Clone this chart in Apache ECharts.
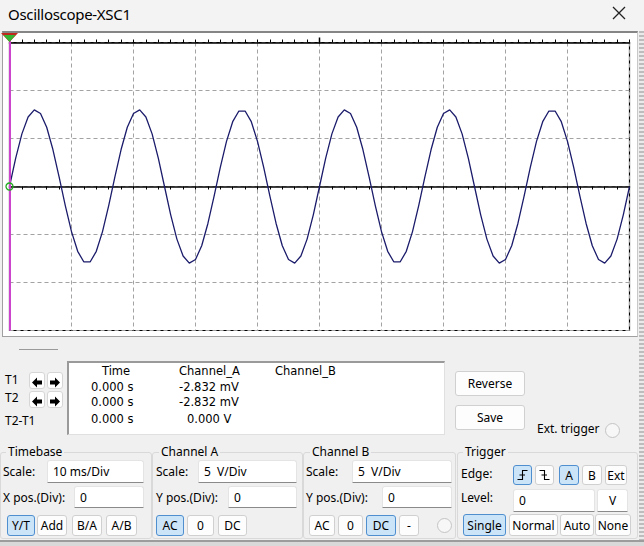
<!DOCTYPE html>
<html>
<head>
<meta charset="utf-8">
<script src="https://cdn.jsdelivr.net/npm/echarts@6/dist/echarts.min.js"></script>
<style>
  html,body{margin:0;padding:0;}
  body{width:644px;height:546px;background:#f0f0f0;overflow:hidden;position:relative;font-family:"Noto Sans",sans-serif;color:#000;}
  .abs{position:absolute;}
  .lbl{position:absolute;font-size:12px;line-height:16px;white-space:nowrap;}
  .mono{position:absolute;font-family:"DejaVu Sans",sans-serif;font-size:11.5px;line-height:15px;white-space:nowrap;}
  .btn{position:absolute;box-sizing:border-box;border:1px solid #d0d0d0;border-radius:3px;background:#fdfdfd;font-size:12px;display:flex;align-items:center;justify-content:center;white-space:nowrap;}
  .btn.on{background:#cce4f7;border-color:#4f8fd0;}
  .inp{position:absolute;box-sizing:border-box;background:#fff;border:1px solid #e4e4e4;border-bottom:1px solid #8a8a8a;border-radius:3px 3px 0 0;font-size:12px;padding-left:5px;display:flex;align-items:center;white-space:pre;}
  .grp{position:absolute;box-sizing:border-box;border:1px solid #d9d9d9;border-radius:3px;}
  .glbl{position:absolute;font-size:12px;line-height:16px;background:#f0f0f0;padding:0 2px;white-space:nowrap;}
  .radio{position:absolute;box-sizing:border-box;width:15px;height:15px;border-radius:50%;border:1px solid #c4c4c4;background:#f7f7f7;}
  .arr{position:absolute;box-sizing:border-box;width:16px;height:17px;border:1px solid #d6d6d6;border-radius:3px;background:#fff;}
</style>
</head>
<body>
<!-- title bar -->
<div class="abs" style="left:0;top:0;width:644px;height:31px;background:#f3f3f3;"></div>
<div class="lbl" style="left:8px;top:4px;font-size:15px;line-height:20px;letter-spacing:-0.3px;">Oscilloscope-XSC1</div>
<svg class="abs" style="left:612px;top:6px;" width="14" height="14"><path d="M1 1 L13 13 M13 1 L1 13" stroke="#222" stroke-width="1.3"/></svg>

<!-- screen -->
<div class="abs" style="left:2px;top:31px;width:636px;height:306px;box-sizing:border-box;background:#fff;border-top:2px solid #858585;border-left:1px solid #a0a0a0;border-right:1px solid #c8c8c8;border-bottom:1px solid #a0a0a0;"></div>
<div class="abs" style="left:639px;top:31px;width:5px;height:515px;background:repeating-linear-gradient(to bottom,#9a9a9a 0 2px,#e6e6e6 2px 4px);opacity:0.6;"></div>
<div id="chart" class="abs" style="left:0;top:0;width:644px;height:340px;"></div>

<!-- cursor panel -->
<div class="abs" style="left:19px;top:349px;width:39px;height:1px;background:#9a9a9a;"></div>
<div class="lbl" style="left:5px;top:372px;">T1</div>
<div class="lbl" style="left:5px;top:390px;">T2</div>
<div class="lbl" style="left:5px;top:413px;">T2-T1</div>
<div class="arr" style="left:29px;top:372px;"><svg width="14" height="15"><polygon points="2,7.5 7,2.5 7,5.5 12,5.5 12,9.5 7,9.5 7,12.5" fill="#000"/></svg></div>
<div class="arr" style="left:47px;top:372px;"><svg width="14" height="15"><polygon points="12,7.5 7,2.5 7,5.5 2,5.5 2,9.5 7,9.5 7,12.5" fill="#000"/></svg></div>
<div class="arr" style="left:29px;top:391px;"><svg width="14" height="15"><polygon points="2,7.5 7,2.5 7,5.5 12,5.5 12,9.5 7,9.5 7,12.5" fill="#000"/></svg></div>
<div class="arr" style="left:47px;top:391px;"><svg width="14" height="15"><polygon points="12,7.5 7,2.5 7,5.5 2,5.5 2,9.5 7,9.5 7,12.5" fill="#000"/></svg></div>

<div class="abs" style="left:67px;top:361px;width:378px;height:74px;box-sizing:border-box;background:#fff;border-top:2px solid #9a9a9a;border-left:2px solid #9a9a9a;border-right:1px solid #e0e0e0;border-bottom:1px solid #e0e0e0;"></div>
<div class="mono" style="left:102px;top:364px;">Time</div>
<div class="mono" style="left:179px;top:364px;">Channel_A</div>
<div class="mono" style="left:275px;top:364px;">Channel_B</div>
<div class="mono" style="left:91px;top:380px;">0.000 s</div>
<div class="mono" style="left:179px;top:380px;">-2.832 mV</div>
<div class="mono" style="left:91px;top:395px;">0.000 s</div>
<div class="mono" style="left:179px;top:395px;">-2.832 mV</div>
<div class="mono" style="left:91px;top:412px;">0.000 s</div>
<div class="mono" style="left:187px;top:412px;">0.000 V</div>

<div class="btn" style="left:455px;top:371px;width:70px;height:25px;">Reverse</div>
<div class="btn" style="left:455px;top:405px;width:70px;height:25px;">Save</div>
<div class="lbl" style="left:537px;top:421px;">Ext. trigger</div>
<div class="radio" style="left:605px;top:423px;"></div>

<!-- group frames -->
<div class="grp" style="left:0px;top:452px;width:152px;height:87px;"></div>
<div class="grp" style="left:152px;top:452px;width:151px;height:87px;"></div>
<div class="grp" style="left:303px;top:452px;width:153px;height:87px;"></div>
<div class="grp" style="left:457px;top:452px;width:181px;height:87px;"></div>
<div class="glbl" style="left:6px;top:444px;">Timebase</div>
<div class="glbl" style="left:159px;top:444px;">Channel A</div>
<div class="glbl" style="left:310px;top:444px;">Channel B</div>
<div class="glbl" style="left:463px;top:444px;">Trigger</div>

<!-- timebase -->
<div class="lbl" style="left:3px;top:464px;">Scale:</div>
<div class="inp" style="left:47px;top:460px;width:97px;height:23px;">10 ms/Div</div>
<div class="lbl" style="left:3px;top:490px;">X pos.(Div):</div>
<div class="inp" style="left:74px;top:486px;width:70px;height:22px;">0</div>
<div class="btn on" style="left:7px;top:515px;width:28px;height:21px;">Y/T</div>
<div class="btn" style="left:37px;top:515px;width:30px;height:21px;">Add</div>
<div class="btn" style="left:72px;top:515px;width:30px;height:21px;">B/A</div>
<div class="btn" style="left:106px;top:515px;width:31px;height:21px;">A/B</div>

<!-- channel A -->
<div class="lbl" style="left:156px;top:464px;">Scale:</div>
<div class="inp" style="left:198px;top:460px;width:99px;height:23px;">5  V/Div</div>
<div class="lbl" style="left:156px;top:490px;">Y pos.(Div):</div>
<div class="inp" style="left:228px;top:486px;width:69px;height:22px;">0</div>
<div class="btn on" style="left:156px;top:515px;width:28px;height:21px;">AC</div>
<div class="btn" style="left:187px;top:515px;width:27px;height:21px;">0</div>
<div class="btn" style="left:218px;top:515px;width:29px;height:21px;">DC</div>

<!-- channel B -->
<div class="lbl" style="left:306px;top:464px;">Scale:</div>
<div class="inp" style="left:352px;top:460px;width:100px;height:23px;">5  V/Div</div>
<div class="lbl" style="left:306px;top:490px;">Y pos.(Div):</div>
<div class="inp" style="left:382px;top:486px;width:70px;height:22px;">0</div>
<div class="btn" style="left:309px;top:515px;width:26px;height:21px;">AC</div>
<div class="btn" style="left:338px;top:515px;width:25px;height:21px;">0</div>
<div class="btn on" style="left:366px;top:515px;width:30px;height:21px;">DC</div>
<div class="btn" style="left:399px;top:515px;width:20px;height:21px;">-</div>
<div class="radio" style="left:437px;top:518px;"></div>

<!-- trigger -->
<div class="lbl" style="left:461px;top:466px;">Edge:</div>
<div class="btn on" style="left:513px;top:465px;width:19px;height:20px;"><svg width="13" height="14"><path d="M1.5 11.5 H6.5 V2.5 H11.5 M3.5 7 H9" stroke="#000" stroke-width="1.1" fill="none"/></svg></div>
<div class="btn" style="left:535px;top:465px;width:19px;height:20px;"><svg width="13" height="14"><path d="M1.5 2.5 H6.5 V11.5 H11.5 M3.5 7 H9" stroke="#000" stroke-width="1.1" fill="none"/></svg></div>
<div class="btn on" style="left:559px;top:465px;width:20px;height:20px;">A</div>
<div class="btn" style="left:582px;top:465px;width:20px;height:20px;">B</div>
<div class="btn" style="left:605px;top:465px;width:22px;height:20px;">Ext</div>
<div class="lbl" style="left:461px;top:490px;">Level:</div>
<div class="inp" style="left:513px;top:489px;width:82px;height:23px;">0</div>
<div class="inp" style="left:597px;top:489px;width:31px;height:23px;justify-content:center;padding-left:0;">V</div>
<div class="btn on" style="left:463px;top:514px;width:43px;height:22px;">Single</div>
<div class="btn" style="left:509px;top:514px;width:49px;height:22px;">Normal</div>
<div class="btn" style="left:560px;top:514px;width:34px;height:22px;">Auto</div>
<div class="btn" style="left:595px;top:514px;width:36px;height:22px;">None</div>

<!-- bottom edge -->
<div class="abs" style="left:0;top:540px;width:644px;height:2px;background:#9c9c9c;"></div>
<div class="abs" style="left:0;top:542px;width:644px;height:4px;background:#d9d9d9;"></div>

<script>
// time samples (ms) and Channel A voltage (V)
const timeMs = [0,1,2,3,4,5,6,7,8,9,10,11,12,13,14,15,16,17,18,19,20,21,22,23,24,
  25,26,27,28,29,30,31,32,33,34,35,36,37,38,39,40,41,42,43,44,45,46,47,48,49,
  50,51,52,53,54,55,56,57,58,59,60,61,62,63,64,65,66,67,68,69,70,71,72,73,74,
  75,76,77,78,79,80,81,82,83,84,85,86,87,88,89,90,91,92,93,94,95,96,97,98,99,100];
const channelA = [0,2.95,5.48,7.24,7.98,7.61,6.17,3.85,1.00,-1.99,-4.70,-6.75,-7.86,-7.86,-6.75,-4.70,-1.99,1.00,3.85,6.17,7.61,7.98,7.24,5.48,2.95,
  0,-2.95,-5.48,-7.24,-7.98,-7.61,-6.17,-3.85,-1.00,1.99,4.70,6.75,7.86,7.86,6.75,4.70,1.99,-1.00,-3.85,-6.17,-7.61,-7.98,-7.24,-5.48,-2.95,
  0,2.95,5.48,7.24,7.98,7.61,6.17,3.85,1.00,-1.99,-4.70,-6.75,-7.86,-7.86,-6.75,-4.70,-1.99,1.00,3.85,6.17,7.61,7.98,7.24,5.48,2.95,
  0,-2.95,-5.48,-7.24,-7.98,-7.61,-6.17,-3.85,-1.00,1.99,4.70,6.75,7.86,7.86,6.75,4.70,1.99,-1.00,-3.85,-6.17,-7.61,-7.98,-7.24,-5.48,-2.95,
  0];
const timeRange = [0, 100];   // 10 ms/Div x 10 div
const voltRange = [-15, 15];  // 5 V/Div x 6 div
const cursorT1 = 0;
const triggerPos = 50;

const chart = echarts.init(document.getElementById('chart'), null, {renderer:'canvas'});
const dashed = {color:'#a3a3a3', width:1, type:[4,3]};
const zeroAxis = (pos) => ({
  type:'value', position:pos, min:timeRange[0], max:timeRange[1], interval:10,
  axisLine:{show:true, onZero:true, lineStyle:{color:'#000', width:1.6}},
  axisTick:{show:true, length:3, lineStyle:{color:'#000', width:1}},
  minorTick:{show:true, splitNumber:5, length:3, lineStyle:{color:'#000', width:1}},
  axisLabel:{show:false},
  splitLine:{show: pos==='bottom', lineStyle:dashed}
});
chart.setOption({
  animation:false,
  grid:{left:9.5, top:42.5, width:620, height:288, show:true, borderColor:'#000', borderWidth:1.2, backgroundColor:'transparent'},
  xAxis:[zeroAxis('bottom'), zeroAxis('top')],
  yAxis:{type:'value', min:voltRange[0], max:voltRange[1], interval:5,
    axisLine:{show:false}, axisTick:{show:false}, axisLabel:{show:false},
    splitLine:{show:true, lineStyle:dashed}},
  series:[{
    type:'line', xAxisIndex:0,
    data: timeMs.map((t,i)=>[t, channelA[i]]),
    showSymbol:false, smooth:false,
    lineStyle:{color:'#1b1b6b', width:1.3},
    markLine:{silent:true, symbol:['none','none'], label:{show:false},
      lineStyle:{color:'#cc44cc', width:2, type:'solid'},
      data:[[{coord:[cursorT1, voltRange[1]], y:33}, {coord:[cursorT1, voltRange[0]]}]]},
    markPoint:{silent:true, label:{show:false}, data:[
      {coord:[cursorT1, voltRange[1]], symbol:'triangle', symbolRotate:180, symbolSize:[17,9], symbolOffset:[0,-5], itemStyle:{color:'#c0281e'}},
      {coord:[cursorT1, voltRange[1]], symbol:'triangle', symbolRotate:180, symbolSize:[12,7], symbolOffset:[0,-4], itemStyle:{color:'#33b633'}},
      {coord:[cursorT1, 0], symbol:'circle', symbolSize:7, itemStyle:{color:'rgba(0,0,0,0)', borderColor:'#22aa22', borderWidth:1.3}},
      {coord:[triggerPos, voltRange[1]], symbol:'rect', symbolSize:[1.5,6], symbolOffset:[0,-2], itemStyle:{color:'#000'}}
    ]}
  }]
});
</script>
</body>
</html>
